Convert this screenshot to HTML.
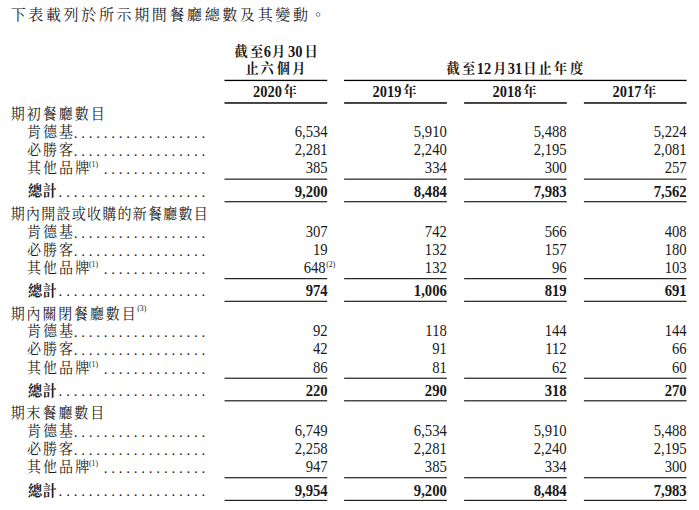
<!DOCTYPE html>
<html lang="zh-Hant"><head><meta charset="utf-8"><title>餐廳總數</title>
<style>
html,body{margin:0;padding:0;background:#fff;}
body{width:699px;height:510px;position:relative;overflow:hidden;font-family:"Liberation Serif","Noto Serif CJK TC","Noto Serif CJK SC",serif;color:#1a1a1a;}
.t{position:absolute;white-space:nowrap;line-height:20px;height:20px;}
.title{font-size:15px;letter-spacing:2.64px;}
.hh{font-weight:bold;}
.hh span{display:inline-block;}
.c{font-size:13.2px;position:relative;top:-0.7px;}
.d{font-size:14.5px;transform:scaleY(1.09);transform-origin:0 74.5%;}
.lab{font-size:14px;letter-spacing:2.1px;transform:scaleY(1.045);transform-origin:0 73%;}
.num{font-size:15.6px;text-align:right;transform:scale(0.94,1.075);transform-origin:100% 76.3%;}
.num.b{transform:scale(0.94,1.11);}
.b{font-weight:bold;}
sup{font-size:7.8px;letter-spacing:0;vertical-align:baseline;position:relative;top:-6.3px;margin-left:-2.3px;line-height:0;font-weight:normal;}
.dots{letter-spacing:3.77px;font-size:15px;}

</style></head><body>
<div class="t title" style="left:10.7px;top:5.2px">下表載列於所示期間餐廳總數及其變動。</div>
<div class="t hh" style="left:234.4px;top:41.8px"><span class="c" style="margin-left:0px">截</span><span class="c" style="margin-left:2.5px">至</span><span class="d" style="margin-left:0.5px">6</span><span class="c" style="margin-left:1.0px">月</span><span class="d" style="margin-left:2.7px">30</span><span class="c" style="margin-left:2.1px">日</span></div>
<div class="t hh" style="left:245.4px;top:58.5px"><span class="c" style="margin-left:0px">止</span><span class="c" style="margin-left:1.8px">六</span><span class="c" style="margin-left:3.3px">個</span><span class="c" style="margin-left:2.3px">月</span></div>
<div class="t hh" style="left:446.4px;top:58.5px"><span class="c" style="margin-left:0px">截</span><span class="c" style="margin-left:2.5px">至</span><span class="d" style="margin-left:1.6px">12</span><span class="c" style="margin-left:1.9px">月</span><span class="d" style="margin-left:1.4px">31</span><span class="c" style="margin-left:1.0px">日</span><span class="c" style="margin-left:2.1px">止</span><span class="c" style="margin-left:2px">年</span><span class="c" style="margin-left:3px">度</span></div>
<div class="t hh" style="left:253.0px;top:81.5px"><span class="d" style="margin-left:0px">2020</span><span class="c" style="margin-left:1.6px">年</span></div>
<div class="t hh" style="left:372.6px;top:81.5px"><span class="d" style="margin-left:0px">2019</span><span class="c" style="margin-left:1.6px">年</span></div>
<div class="t hh" style="left:492.6px;top:81.5px"><span class="d" style="margin-left:0px">2018</span><span class="c" style="margin-left:1.6px">年</span></div>
<div class="t hh" style="left:612.4px;top:81.5px"><span class="d" style="margin-left:0px">2017</span><span class="c" style="margin-left:1.6px">年</span></div>
<div class="t lab" style="left:10.7px;top:104.8px;letter-spacing:2.0px;">期初餐廳數目</div>
<div class="t lab" style="left:26.9px;top:122.8px;">肯德基</div>
<div class="t dots" style="left:73.66px;top:123.20px">..................</div>
<div class="t num" style="left:224.5px;width:102.7px;top:122px">6,534</div>
<div class="t num" style="left:344.1px;width:102.8px;top:122px">5,910</div>
<div class="t num" style="left:464.1px;width:102.7px;top:122px">5,488</div>
<div class="t num" style="left:583.9px;width:102.7px;top:122px">5,224</div>
<div class="t lab" style="left:26.9px;top:140.8px;">必勝客</div>
<div class="t dots" style="left:73.66px;top:141.20px">..................</div>
<div class="t num" style="left:224.5px;width:102.7px;top:140px">2,281</div>
<div class="t num" style="left:344.1px;width:102.8px;top:140px">2,240</div>
<div class="t num" style="left:464.1px;width:102.7px;top:140px">2,195</div>
<div class="t num" style="left:583.9px;width:102.7px;top:140px">2,081</div>
<div class="t lab" style="left:26.9px;top:158.8px;">其他品牌<sup>(1)</sup></div>
<div class="t dots" style="left:103.74px;top:159.20px">..............</div>
<div class="t num" style="left:224.5px;width:102.7px;top:158px">385</div>
<div class="t num" style="left:344.1px;width:102.8px;top:158px">334</div>
<div class="t num" style="left:464.1px;width:102.7px;top:158px">300</div>
<div class="t num" style="left:583.9px;width:102.7px;top:158px">257</div>
<div class="t lab b" style="left:28px;top:181.5px;letter-spacing:0.7px;">總計</div>
<div class="t dots" style="left:58.62px;top:182.10px">....................</div>
<div class="t num b" style="left:224.5px;width:102.7px;top:182px">9,200</div>
<div class="t num b" style="left:344.1px;width:102.8px;top:182px">8,484</div>
<div class="t num b" style="left:464.1px;width:102.7px;top:182px">7,983</div>
<div class="t num b" style="left:583.9px;width:102.7px;top:182px">7,562</div>
<div class="t lab" style="left:10.7px;top:205.4px;letter-spacing:1.25px;">期內開設或收購的新餐廳數目</div>
<div class="t lab" style="left:26.9px;top:222.8px;">肯德基</div>
<div class="t dots" style="left:73.66px;top:223.20px">..................</div>
<div class="t num" style="left:224.5px;width:102.7px;top:222px">307</div>
<div class="t num" style="left:344.1px;width:102.8px;top:222px">742</div>
<div class="t num" style="left:464.1px;width:102.7px;top:222px">566</div>
<div class="t num" style="left:583.9px;width:102.7px;top:222px">408</div>
<div class="t lab" style="left:26.9px;top:240.8px;">必勝客</div>
<div class="t dots" style="left:73.66px;top:241.20px">..................</div>
<div class="t num" style="left:224.5px;width:102.7px;top:240px">19</div>
<div class="t num" style="left:344.1px;width:102.8px;top:240px">132</div>
<div class="t num" style="left:464.1px;width:102.7px;top:240px">157</div>
<div class="t num" style="left:583.9px;width:102.7px;top:240px">180</div>
<div class="t lab" style="left:26.9px;top:258.8px;">其他品牌<sup>(1)</sup></div>
<div class="t dots" style="left:103.74px;top:259.20px">..............</div>
<div class="t lab" style="left:328.5px;top:258.8px"><sup>(2)</sup></div>
<div class="t num" style="left:222.7px;width:102.7px;top:258px">648</div>
<div class="t num" style="left:344.1px;width:102.8px;top:258px">132</div>
<div class="t num" style="left:464.1px;width:102.7px;top:258px">96</div>
<div class="t num" style="left:583.9px;width:102.7px;top:258px">103</div>
<div class="t lab b" style="left:28px;top:281.7px;letter-spacing:0.7px;">總計</div>
<div class="t dots" style="left:58.62px;top:281.10px">....................</div>
<div class="t num b" style="left:224.5px;width:102.7px;top:281px">974</div>
<div class="t num b" style="left:344.1px;width:102.8px;top:281px">1,006</div>
<div class="t num b" style="left:464.1px;width:102.7px;top:281px">819</div>
<div class="t num b" style="left:583.9px;width:102.7px;top:281px">691</div>
<div class="t lab" style="left:10.7px;top:304.6px;letter-spacing:1.85px;">期內關閉餐廳數目<sup style="margin-left:-0.3px;top:-7.6px">(3)</sup></div>
<div class="t lab" style="left:26.9px;top:321.8px;">肯德基</div>
<div class="t dots" style="left:73.66px;top:322.20px">..................</div>
<div class="t num" style="left:224.5px;width:102.7px;top:321px">92</div>
<div class="t num" style="left:344.1px;width:102.8px;top:321px">118</div>
<div class="t num" style="left:464.1px;width:102.7px;top:321px">144</div>
<div class="t num" style="left:583.9px;width:102.7px;top:321px">144</div>
<div class="t lab" style="left:26.9px;top:339.8px;">必勝客</div>
<div class="t dots" style="left:73.66px;top:340.20px">..................</div>
<div class="t num" style="left:224.5px;width:102.7px;top:339px">42</div>
<div class="t num" style="left:344.1px;width:102.8px;top:339px">91</div>
<div class="t num" style="left:464.1px;width:102.7px;top:339px">112</div>
<div class="t num" style="left:583.9px;width:102.7px;top:339px">66</div>
<div class="t lab" style="left:26.9px;top:358.8px;">其他品牌<sup>(1)</sup></div>
<div class="t dots" style="left:103.74px;top:359.20px">..............</div>
<div class="t num" style="left:224.5px;width:102.7px;top:358px">86</div>
<div class="t num" style="left:344.1px;width:102.8px;top:358px">81</div>
<div class="t num" style="left:464.1px;width:102.7px;top:358px">62</div>
<div class="t num" style="left:583.9px;width:102.7px;top:358px">60</div>
<div class="t lab b" style="left:28px;top:381.7px;letter-spacing:0.7px;">總計</div>
<div class="t dots" style="left:58.62px;top:381.10px">....................</div>
<div class="t num b" style="left:224.5px;width:102.7px;top:381px">220</div>
<div class="t num b" style="left:344.1px;width:102.8px;top:381px">290</div>
<div class="t num b" style="left:464.1px;width:102.7px;top:381px">318</div>
<div class="t num b" style="left:583.9px;width:102.7px;top:381px">270</div>
<div class="t lab" style="left:10.7px;top:403.8px;letter-spacing:1.9px;">期末餐廳數目</div>
<div class="t lab" style="left:26.9px;top:421.8px;">肯德基</div>
<div class="t dots" style="left:73.66px;top:422.20px">..................</div>
<div class="t num" style="left:224.5px;width:102.7px;top:421px">6,749</div>
<div class="t num" style="left:344.1px;width:102.8px;top:421px">6,534</div>
<div class="t num" style="left:464.1px;width:102.7px;top:421px">5,910</div>
<div class="t num" style="left:583.9px;width:102.7px;top:421px">5,488</div>
<div class="t lab" style="left:26.9px;top:439.8px;">必勝客</div>
<div class="t dots" style="left:73.66px;top:440.20px">..................</div>
<div class="t num" style="left:224.5px;width:102.7px;top:439px">2,258</div>
<div class="t num" style="left:344.1px;width:102.8px;top:439px">2,281</div>
<div class="t num" style="left:464.1px;width:102.7px;top:439px">2,240</div>
<div class="t num" style="left:583.9px;width:102.7px;top:439px">2,195</div>
<div class="t lab" style="left:26.9px;top:457.8px;">其他品牌<sup>(1)</sup></div>
<div class="t dots" style="left:103.74px;top:458.20px">..............</div>
<div class="t num" style="left:224.5px;width:102.7px;top:457px">947</div>
<div class="t num" style="left:344.1px;width:102.8px;top:457px">385</div>
<div class="t num" style="left:464.1px;width:102.7px;top:457px">334</div>
<div class="t num" style="left:583.9px;width:102.7px;top:457px">300</div>
<div class="t lab b" style="left:28px;top:481.7px;letter-spacing:0.7px;">總計</div>
<div class="t dots" style="left:58.62px;top:481.10px">....................</div>
<div class="t num b" style="left:224.5px;width:102.7px;top:481px">9,954</div>
<div class="t num b" style="left:344.1px;width:102.8px;top:481px">9,200</div>
<div class="t num b" style="left:464.1px;width:102.7px;top:481px">8,484</div>
<div class="t num b" style="left:583.9px;width:102.7px;top:481px">7,983</div>
<svg width="699" height="510" viewBox="0 0 699 510" style="position:absolute;left:0;top:0">
<rect x="224.50" y="79.78" width="102.70" height="1.3" fill="#000"/>
<rect x="344.10" y="79.78" width="342.50" height="1.3" fill="#000"/>
<rect x="224.50" y="102.25" width="102.70" height="1.45" fill="#000"/>
<rect x="344.10" y="102.25" width="102.80" height="1.45" fill="#000"/>
<rect x="464.10" y="102.25" width="102.70" height="1.45" fill="#000"/>
<rect x="583.90" y="102.25" width="102.70" height="1.45" fill="#000"/>
<rect x="224.50" y="178.62" width="102.70" height="1.05" fill="#000"/>
<rect x="344.10" y="178.62" width="102.80" height="1.05" fill="#000"/>
<rect x="464.10" y="178.62" width="102.70" height="1.05" fill="#000"/>
<rect x="583.90" y="178.62" width="102.70" height="1.05" fill="#000"/>
<rect x="224.50" y="201.22" width="102.70" height="1.05" fill="#000"/>
<rect x="344.10" y="201.22" width="102.80" height="1.05" fill="#000"/>
<rect x="464.10" y="201.22" width="102.70" height="1.05" fill="#000"/>
<rect x="583.90" y="201.22" width="102.70" height="1.05" fill="#000"/>
<rect x="224.50" y="278.16" width="102.70" height="1.05" fill="#000"/>
<rect x="344.10" y="278.16" width="102.80" height="1.05" fill="#000"/>
<rect x="464.10" y="278.16" width="102.70" height="1.05" fill="#000"/>
<rect x="583.90" y="278.16" width="102.70" height="1.05" fill="#000"/>
<rect x="224.50" y="300.76" width="102.70" height="1.05" fill="#000"/>
<rect x="344.10" y="300.76" width="102.80" height="1.05" fill="#000"/>
<rect x="464.10" y="300.76" width="102.70" height="1.05" fill="#000"/>
<rect x="583.90" y="300.76" width="102.70" height="1.05" fill="#000"/>
<rect x="224.50" y="377.69" width="102.70" height="1.05" fill="#000"/>
<rect x="344.10" y="377.69" width="102.80" height="1.05" fill="#000"/>
<rect x="464.10" y="377.69" width="102.70" height="1.05" fill="#000"/>
<rect x="583.90" y="377.69" width="102.70" height="1.05" fill="#000"/>
<rect x="224.50" y="400.29" width="102.70" height="1.05" fill="#000"/>
<rect x="344.10" y="400.29" width="102.80" height="1.05" fill="#000"/>
<rect x="464.10" y="400.29" width="102.70" height="1.05" fill="#000"/>
<rect x="583.90" y="400.29" width="102.70" height="1.05" fill="#000"/>
<rect x="224.50" y="477.22" width="102.70" height="1.05" fill="#000"/>
<rect x="344.10" y="477.22" width="102.80" height="1.05" fill="#000"/>
<rect x="464.10" y="477.22" width="102.70" height="1.05" fill="#000"/>
<rect x="583.90" y="477.22" width="102.70" height="1.05" fill="#000"/>
<rect x="224.50" y="499.82" width="102.70" height="1.05" fill="#000"/>
<rect x="344.10" y="499.82" width="102.80" height="1.05" fill="#000"/>
<rect x="464.10" y="499.82" width="102.70" height="1.05" fill="#000"/>
<rect x="583.90" y="499.82" width="102.70" height="1.05" fill="#000"/>
</svg>
</body></html>
